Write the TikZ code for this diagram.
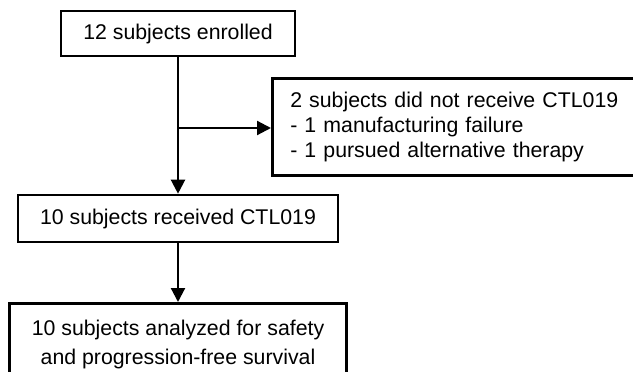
\documentclass[tikz,border=0pt]{standalone}
\usepackage{fontspec}
\setmainfont{Liberation Sans}
\usetikzlibrary{arrows.meta}
\tikzset{
  box/.style = {draw, line width = 2.6pt, inner sep = 0pt, font = \fontsize{21.3}{25}\selectfont},
  flow/.style = {-{Triangle[length = 14pt, width = 14pt]}, line width = 2.2pt}
}

\begin{document}
\begin{tikzpicture}[x = 1pt, y = -1pt]
\useasboundingbox (0, 0) rectangle (633, 372);
\clip (0, 0) rectangle (633, 372);
\node (enrolled) [box, minimum width = 234pt, minimum height = 45pt] at (178, 33.5) {12 subjects enrolled};
\node (received) [box, minimum width = 320pt, minimum height = 47pt] at (178, 218.5) {10 subjects received CTL019};
\node (excluded) [box, anchor = north west, minimum height = 97pt, text width = 330pt, inner xsep = 18pt, align = left] at (271, 77)
  {2 subjects did not receive CTL019\\- 1 manufacturing failure\\- 1 pursued alternative therapy};
\node (analyzed) [box, anchor = north, minimum width = 337pt, minimum height = 83pt, align = center, font = \fontsize{21.3}{29}\selectfont] at (178, 302)
  {10 subjects analyzed for safety\\and progression-free survival};
%\node at (178, 128) [left] {branch};
\draw [flow] (enrolled) -- (received);
\coordinate (branch) at (178, 128);
\draw [flow] (branch) -- (branch -| excluded.west);
\draw [flow] (received) -- (analyzed);
\end{tikzpicture}
\end{document}
